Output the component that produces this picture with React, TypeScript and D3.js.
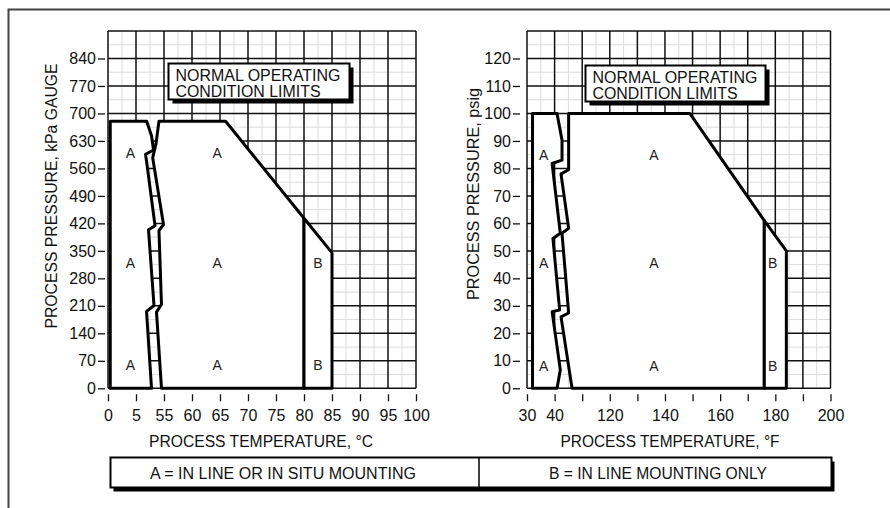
import { useEffect, useRef } from 'react';
import * as d3 from 'd3';

const W = 890;
const H = 508;
const FONT = '"Liberation Sans", Arial, Helvetica, sans-serif';

// ---- left panel: degrees C against kPa gauge ----
const celsiusTicks = [0, 5, 55, 60, 65, 70, 75, 80, 85, 90, 95, 100];
const kpaTicks = [0, 70, 140, 210, 280, 350, 420, 490, 560, 630, 700, 770, 840];
const kpaTop = 910;

// cold "A" zone, its right edge is the axis-break zigzag
const kpaColdZone: [number, number][] = [
  [0.4, 0], [0.4, 680], [24, 680], [32.7, 643], [36.3, 607], [22, 596], [23.8, 579],
  [39, 414], [27.3, 404], [37.1, 211], [23.8, 196], [32.7, 0],
];
// main "A" zone: the other side of the break, out to 80 C and the limit line
const kpaMainZone: [number, number][] = [
  [46, 680], [40.7, 623], [34.8, 587], [54.1, 417], [46, 402], [50.5, 214], [41.6, 194], [50.5, 0],
  [80, 0], [80, 433], [66, 680],
];
const kpaOnlyZone: [number, number][] = [[80, 0], [80, 433], [85, 345], [85, 0]];
const kpaZoneLetters: [number, number, string][] = [
  [4, 600, 'A'], [64.5, 600, 'A'],
  [4, 320, 'A'], [64.5, 320, 'A'], [82.5, 320, 'B'],
  [4, 60, 'A'], [64.5, 60, 'A'], [82.5, 60, 'B'],
];

// ---- right panel: degrees F against psig ----
const fahrenheitTicks = [30, 40, 110, 120, 130, 140, 150, 160, 170, 180, 190, 200];
const fahrenheitLabels = ['30', '40', '', '120', '', '140', '', '160', '', '180', '', '200'];
const psigTicks = [0, 10, 20, 30, 40, 50, 60, 70, 80, 90, 100, 110, 120];
const psigTop = 130;

const psigColdZone: [number, number][] = [
  [32, 0], [32, 100], [46.2, 100], [58.8, 90.3], [58.8, 83], [39.1, 81.8],
  [54.5, 56.4], [39.4, 54.5], [52.7, 28.5], [39.1, 27.9], [54.5, 6.7], [46.2, 0],
];
const psigMainZone: [number, number][] = [
  [75.6, 100], [75.6, 79.5], [56.3, 78], [75.6, 58.2], [58.8, 56.4], [75.6, 27.4], [56.3, 26], [84.2, 0],
  [176, 0], [176, 61], [149, 100],
];
const psigOnlyZone: [number, number][] = [[176, 0], [176, 61], [184, 50], [184, 0]];
const psigZoneLetters: [number, number, string][] = [
  [36, 85, 'A'], [136, 85, 'A'],
  [36, 45.5, 'A'], [136, 45.5, 'A'], [179, 45.5, 'B'],
  [36, 8, 'A'], [136, 8, 'A'], [179, 8, 'B'],
];

const legendItems = ['A = IN LINE OR IN SITU MOUNTING', 'B = IN LINE MOUNTING ONLY'];

type Sel = d3.Selection<SVGGElement, unknown, null, undefined>;

interface PanelOpts {
  x: d3.ScaleLinear<number, number>;
  y: d3.ScaleLinear<number, number>;
  xTicks: number[];
  xFormat: (d: number, i: number) => string;
  yTicks: number[];
  yTop: number;
  zones: [number, number][][];
  letters: [number, number, string][];
  box: { x: number; y: number; w: number; h: number };
  yTitle: string;
  yTitleX: number;
  yTitleY: number;
  yTitleLen: number;
  xTitle: string;
  xTitleX: number;
  xTitleLen: number;
  yAxisX: number;
}

function drawPanel(g: Sel, o: PanelOpts) {
  const { x, y } = o;
  const x0 = x(o.xTicks[0]);
  const x1 = x(o.xTicks[o.xTicks.length - 1]);
  const yb = y(0);
  const yt = y(o.yTop);
  const yAll = [...o.yTicks, o.yTop];

  // faint half-cell lines
  const faint = g.append('g').attr('stroke', '#dcdcdc').attr('stroke-width', 1);
  o.xTicks.slice(1).forEach((t, i) => {
    const m = (x(o.xTicks[i]) + x(t)) / 2;
    faint.append('line').attr('x1', m).attr('x2', m).attr('y1', yt).attr('y2', yb);
  });
  yAll.slice(1).forEach((t, i) => {
    const m = (y(yAll[i]) + y(t)) / 2;
    faint.append('line').attr('x1', x0).attr('x2', x1).attr('y1', m).attr('y2', m);
  });

  const grid = g.append('g').attr('stroke', '#111').attr('stroke-width', 1.5);
  o.xTicks.forEach(t => {
    grid.append('line').attr('x1', x(t)).attr('x2', x(t)).attr('y1', yt).attr('y2', yb);
  });
  yAll.forEach(t => {
    grid.append('line').attr('x1', x0).attr('x2', x1).attr('y1', y(t)).attr('y2', y(t));
  });

  const line = d3.line<[number, number]>().x(d => x(d[0])).y(d => y(d[1]));
  o.zones.forEach(z => {
    g.append('path').attr('d', line(z) + 'Z')
      .attr('fill', '#fff').attr('stroke', '#000').attr('stroke-width', 3)
      .attr('stroke-linejoin', 'round');
  });

  g.selectAll('.zone-letter').data(o.letters).enter().append('text')
    .attr('class', 'zone-letter')
    .attr('x', d => x(d[0])).attr('y', d => y(d[1])).attr('dy', '0.36em')
    .attr('text-anchor', 'middle').attr('font-size', 14).attr('fill', '#222')
    .text(d => d[2]);

  // title box with drop shadow
  const b = o.box;
  g.append('rect').attr('x', b.x + 4).attr('y', b.y + 4).attr('width', b.w).attr('height', b.h).attr('fill', '#000');
  g.append('rect').attr('x', b.x).attr('y', b.y).attr('width', b.w).attr('height', b.h)
    .attr('fill', '#fff').attr('stroke', '#000').attr('stroke-width', 2);
  g.append('text').attr('x', b.x + 7).attr('y', b.y + 17).attr('font-size', 16)
    .attr('textLength', 165).attr('lengthAdjust', 'spacingAndGlyphs').text('NORMAL OPERATING');
  g.append('text').attr('x', b.x + 7).attr('y', b.y + 33).attr('font-size', 16)
    .attr('textLength', 145).attr('lengthAdjust', 'spacingAndGlyphs').text('CONDITION LIMITS');

  // axes
  const ya = g.append('g').attr('transform', `translate(${o.yAxisX},0)`)
    .call(d3.axisLeft(y).tickValues(o.yTicks).tickSize(7).tickPadding(2).tickFormat(d3.format('d')));
  ya.select('.domain').remove();
  ya.selectAll('line').attr('stroke', '#111').attr('stroke-width', 1.3);
  ya.selectAll('text').attr('font-size', 16).attr('font-family', FONT).attr('fill', '#111');

  const xa = g.append('g').attr('transform', `translate(0,${yb + 6})`)
    .call(d3.axisBottom(x).tickValues(o.xTicks).tickSize(7).tickPadding(8)
      .tickFormat((d, i) => o.xFormat(d as number, i)));
  xa.select('.domain').remove();
  xa.selectAll('line').attr('stroke', '#111').attr('stroke-width', 1.3);
  xa.selectAll('text').attr('font-size', 16).attr('font-family', FONT).attr('fill', '#111');

  g.append('text').attr('transform', `translate(${o.yTitleX},${o.yTitleY}) rotate(-90)`)
    .attr('text-anchor', 'middle').attr('font-size', 16)
    .attr('textLength', o.yTitleLen).attr('lengthAdjust', 'spacingAndGlyphs').text(o.yTitle);
  g.append('text').attr('x', o.xTitleX).attr('y', 446.5).attr('text-anchor', 'middle')
    .attr('font-size', 16).attr('textLength', o.xTitleLen).attr('lengthAdjust', 'spacingAndGlyphs')
    .text(o.xTitle);
}

export default function App() {
  const ref = useRef<SVGSVGElement>(null);

  useEffect(() => {
    if (!ref.current) return;
    const svg = d3.select(ref.current);
    svg.selectAll('*').remove();
    svg.append('rect').attr('width', W).attr('height', H).attr('fill', '#fff');
    svg.append('path').attr('d', `M8.5,${H} V9.5 H${W}`)
      .attr('fill', 'none').attr('stroke', '#444').attr('stroke-width', 2);

    const root = svg.append('g').attr('font-family', FONT).attr('fill', '#111');

    const xC = d3.scaleLinear().domain([0, 5, 55, 100]).range([108, 136, 164, 416]);
    const yK = d3.scaleLinear().domain([0, kpaTop]).range([388.3, 31]);
    drawPanel(root.append('g'), {
      x: xC, y: yK, xTicks: celsiusTicks, xFormat: d => String(d),
      yTicks: kpaTicks, yTop: kpaTop,
      zones: [kpaColdZone, kpaMainZone, kpaOnlyZone], letters: kpaZoneLetters,
      box: { x: 168.5, y: 63.5, w: 181, h: 36 },
      yTitle: 'PROCESS PRESSURE, kPa GAUGE', yTitleX: 57, yTitleY: 196, yTitleLen: 265,
      xTitle: 'PROCESS TEMPERATURE, °C', xTitleX: 261, xTitleLen: 224, yAxisX: 105,
    });

    const xF = d3.scaleLinear().domain([30, 40, 110, 200]).range([527, 554.6, 582.2, 830.5]);
    const yP = d3.scaleLinear().domain([0, psigTop]).range([388.3, 31]);
    drawPanel(root.append('g'), {
      x: xF, y: yP, xTicks: fahrenheitTicks, xFormat: (_, i) => fahrenheitLabels[i],
      yTicks: psigTicks, yTop: psigTop,
      zones: [psigColdZone, psigMainZone, psigOnlyZone], letters: psigZoneLetters,
      box: { x: 585.5, y: 65.5, w: 180, h: 36 },
      yTitle: 'PROCESS PRESSURE, psig', yTitleX: 479, yTitleY: 194, yTitleLen: 212,
      xTitle: 'PROCESS TEMPERATURE, °F', xTitleX: 670, xTitleLen: 219, yAxisX: 520,
    });

    // legend strip
    const lg = root.append('g');
    const lx = 110.5, ly = 457.5, lw = 721, lh = 30, mid = 479;
    lg.append('rect').attr('x', lx + 3).attr('y', ly + 4).attr('width', lw).attr('height', lh).attr('fill', '#000');
    lg.append('rect').attr('x', lx).attr('y', ly).attr('width', lw).attr('height', lh)
      .attr('fill', '#fff').attr('stroke', '#000').attr('stroke-width', 2);
    lg.append('line').attr('x1', mid).attr('x2', mid).attr('y1', ly).attr('y2', ly + lh)
      .attr('stroke', '#000').attr('stroke-width', 1.5);
    const legendX = [283, 658];
    const legendLen = [266, 218];
    lg.selectAll('.legend-text').data(legendItems).enter().append('text')
      .attr('class', 'legend-text')
      .attr('x', (_, i) => legendX[i]).attr('y', ly + 21)
      .attr('text-anchor', 'middle').attr('font-size', 16)
      .attr('textLength', (_, i) => legendLen[i]).attr('lengthAdjust', 'spacingAndGlyphs')
      .text(d => d);
  }, []);

  return (
    <svg ref={ref} width={W} height={H}
      style={{ position: 'absolute', left: 0, top: 0, display: 'block' }} />
  );
}
